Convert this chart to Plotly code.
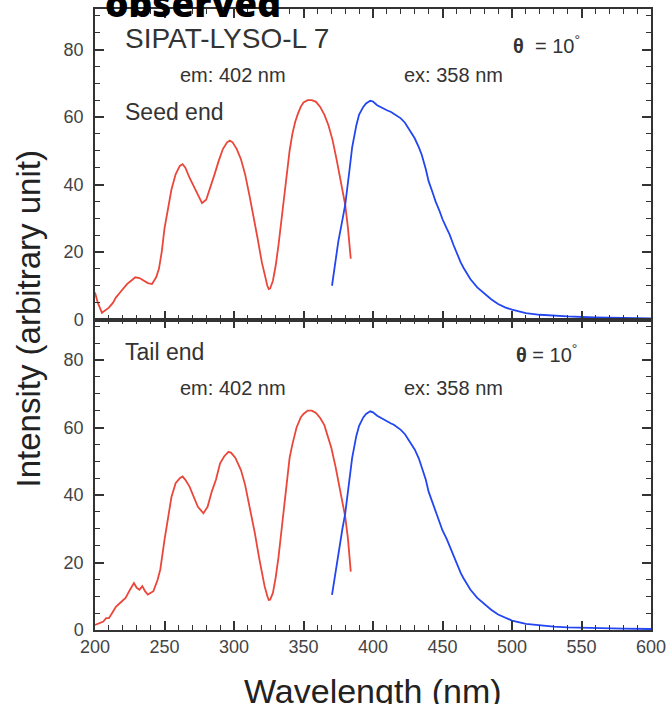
import plotly.graph_objects as go
from plotly.subplots import make_subplots

# excitation (red), seed end
wl_ex_seed = [200, 202, 205, 208, 210, 213, 215, 218, 220, 223, 226, 229, 232, 235, 238, 241, 244, 246, 248,
              250, 252, 255, 258, 261, 263, 265, 268, 271, 274, 277, 280, 283, 286, 289, 292, 295, 297, 299,
              302, 305, 308, 311, 314, 317, 320, 322, 324, 325, 326, 328, 330, 332, 334, 336, 338, 340, 342,
              344, 346, 348, 350, 353, 356, 359, 362, 365, 368, 371, 374, 377, 380, 382, 384]
ex_seed = [8, 5, 2, 3, 3.5, 5, 6.5, 8, 9, 10.5, 11.5, 12.5, 12.3, 11.5, 10.8, 10.5, 12.5, 15, 20,
           27, 32, 38.5, 43, 45.5, 46, 45, 42, 39.5, 36.5, 34.5, 35.5, 39, 43, 47, 50.5, 52.5, 53, 52.5,
           50.5, 47.5, 43, 37, 31, 24, 17, 13, 10, 9, 9.2, 11.5, 16, 22, 29, 36, 43, 50, 55,
           58.5, 61, 63, 64.3, 65, 65, 64.5, 63, 60.7, 57.5, 53, 47, 41, 34, 27, 18]

# emission (blue), seed end
wl_em_seed = [370.5, 373, 375, 378, 380, 383, 385, 388, 390, 393, 395, 398, 400, 403, 405, 408, 410, 413,
              415, 418, 420, 423, 425, 428, 430, 433, 435, 438, 440, 443, 445, 448, 450, 453, 455, 458,
              460, 463, 465, 468, 470, 475, 480, 485, 490, 495, 500, 510, 520, 530, 540, 560, 580, 600]
em_seed = [10, 17, 23, 29.5, 34, 44, 51, 57.5, 60.7, 63, 64, 64.8, 64.6, 63.5, 63, 62.5, 62, 61.5,
           61, 60.3, 59.6, 58.3, 57, 55.3, 53.7, 51, 48.9, 44.5, 41, 37.5, 35, 32, 29.7, 27, 25.3, 22,
           19.8, 17, 15.4, 13.3, 12, 9.5, 7.6, 6, 4.6, 3.6, 2.9, 1.9, 1.4, 1.1, 0.9, 0.6, 0.4, 0.3]

# excitation (red), tail end
wl_ex_tail = [200, 203, 206, 208, 210, 213, 215, 218, 220, 222, 225, 227, 228, 230, 232, 234, 236, 238, 240,
              242, 245, 247, 250, 252, 255, 258, 261, 263, 265, 268, 271, 274, 278, 281, 284, 287, 290, 293,
              296, 298, 301, 305, 308, 310, 313, 315, 318, 320, 322, 324, 325, 326, 328, 330, 332, 335, 338,
              340, 342, 345, 348, 350, 353, 356, 359, 362, 365, 368, 370, 373, 375, 378, 380, 382, 384]
ex_tail = [1.5, 2, 2.5, 3.5, 3.5, 5.5, 6.9, 8, 8.9, 9.5, 11.8, 13.5, 13.9, 12.5, 11.9, 13, 11.5, 10.5, 10.9,
           11.5, 14.8, 18, 26.7, 32, 39.4, 43.5, 45, 45.5, 44.5, 42.5, 39.5, 36.5, 34.6, 36.5, 41, 44.5, 49.4, 51.5,
           52.8, 52.5, 51, 47.4, 43, 39, 33, 28.7, 21.5, 17, 13, 10, 8.9, 9, 11, 15.6, 21.5, 32.6, 44,
           51, 55, 60, 63, 64, 65, 65, 64.3, 62.8, 60.7, 57, 54, 48.5, 44.4, 38.5, 33.6, 27, 17.3]

# emission (blue), tail end
wl_em_tail = [370.5, 373, 375, 378, 380, 383, 385, 388, 390, 393, 395, 398, 400, 403, 405, 408, 410, 413,
              415, 418, 420, 423, 425, 428, 430, 433, 435, 438, 440, 443, 445, 448, 450, 453, 455, 458,
              460, 463, 465, 468, 470, 475, 480, 485, 490, 495, 500, 510, 520, 530, 540, 560, 580, 600]
em_tail = [10.4, 17, 23, 30, 34.5, 44, 51, 57.5, 60.5, 63, 64, 64.8, 64.5, 63.5, 63, 62.3, 61.8, 61.2,
           60.8, 60, 59.3, 58, 56.8, 55, 53.5, 50.8, 48.5, 44.5, 41, 37.5, 35, 32, 29.5, 27, 25, 22,
           19.8, 17, 15.4, 13.3, 12, 9.5, 7.6, 6, 4.6, 3.6, 2.8, 1.8, 1.3, 1, 0.8, 0.5, 0.4, 0.3]

RED = "#eb463a"
BLUE = "#2346f0"
FONT = "Liberation Sans"

fig = make_subplots(rows=2, cols=1, shared_xaxes=True, vertical_spacing=0)

fig.add_trace(go.Scatter(x=wl_ex_seed, y=ex_seed, mode="lines", line=dict(color=RED, width=1.8)), row=1, col=1)
fig.add_trace(go.Scatter(x=wl_em_seed, y=em_seed, mode="lines", line=dict(color=BLUE, width=1.8)), row=1, col=1)
fig.add_trace(go.Scatter(x=wl_ex_tail, y=ex_tail, mode="lines", line=dict(color=RED, width=1.8)), row=2, col=1)
fig.add_trace(go.Scatter(x=wl_em_tail, y=em_tail, mode="lines", line=dict(color=BLUE, width=1.8)), row=2, col=1)

axis_style = dict(showline=True, linecolor="#333", linewidth=1.5, mirror="ticks", showgrid=False,
                  zeroline=False, ticks="inside", ticklen=9, tickwidth=1.5, tickcolor="#333",
                  automargin=False, tickfont=dict(family=FONT, size=18, color="#444"))

fig.update_xaxes(range=[200, 600], tick0=200, dtick=50, ticklabelstandoff=0, ticklabeloverflow="allow",
                 minor=dict(ticks="inside", dtick=10, ticklen=5, tickwidth=1.2, tickcolor="#333"),
                 **axis_style)
fig.update_yaxes(range=[0, 92], tick0=0, dtick=20, ticklabelstandoff=6,
                 minor=dict(ticks="inside", dtick=5, ticklen=5, tickwidth=1.2, tickcolor="#333"),
                 **axis_style)

ann = []
txt = dict(family=FONT, color="#333")
for yr, (label, ly), theta, ty, emy in [("y", ("Seed end", 61.6), "<b>θ</b>  = 10<sup>°</sup>", 81.4, 72.5),
                                        ("y2", ("Tail end", 82.5), "<b>θ</b> = 10<sup>°</sup>", 82, 71.7)]:
    ann.append(dict(x=220, y=ly, xref="x", yref=yr, text=label, showarrow=False, xanchor="left",
                    yanchor="middle", font=dict(size=23, **txt)))
    ann.append(dict(x=525, y=ty, xref="x", yref=yr, text=theta, showarrow=False, xanchor="center",
                    yanchor="middle", font=dict(size=20, **txt)))
    ann.append(dict(x=299, y=emy, xref="x", yref=yr, text="em: 402 nm", showarrow=False,
                    yanchor="middle", font=dict(size=20, **txt)))
    ann.append(dict(x=458, y=emy, xref="x", yref=yr, text="ex: 358 nm", showarrow=False,
                    yanchor="middle", font=dict(size=20, **txt)))

ann.append(dict(x=220, y=83.2, xref="x", yref="y", text="SIPAT-LYSO-L 7", showarrow=False,
                xanchor="left", yanchor="middle", font=dict(size=28, **txt)))
ann.append(dict(x=0, y=0.5, xref="paper", yref="paper", xshift=-67, xanchor="center", yanchor="middle",
                text="Intensity (arbitrary unit)", showarrow=False, textangle=-90,
                font=dict(family=FONT, size=33, color="#222")))
ann.append(dict(x=0.5, y=0, xref="paper", yref="paper", yshift=-40, yanchor="top",
                text="Wavelength (nm)", showarrow=False, font=dict(family=FONT, size=34, color="#222")))
ann.append(dict(x=0, y=1, xref="paper", yref="paper", xshift=8, yshift=7, xanchor="left", yanchor="middle",
                text="observed", showarrow=False,
                font=dict(family="Open Sans", size=37, color="black", weight=800)))

fig.update_layout(width=666, height=704, margin=dict(l=95, r=15, t=9, b=74, autoexpand=False),
                  plot_bgcolor="white", paper_bgcolor="white", showlegend=False, annotations=ann)

fig.write_html("out.html", config={"displayModeBar": False},
               post_script="document.body.style.margin='0';")
